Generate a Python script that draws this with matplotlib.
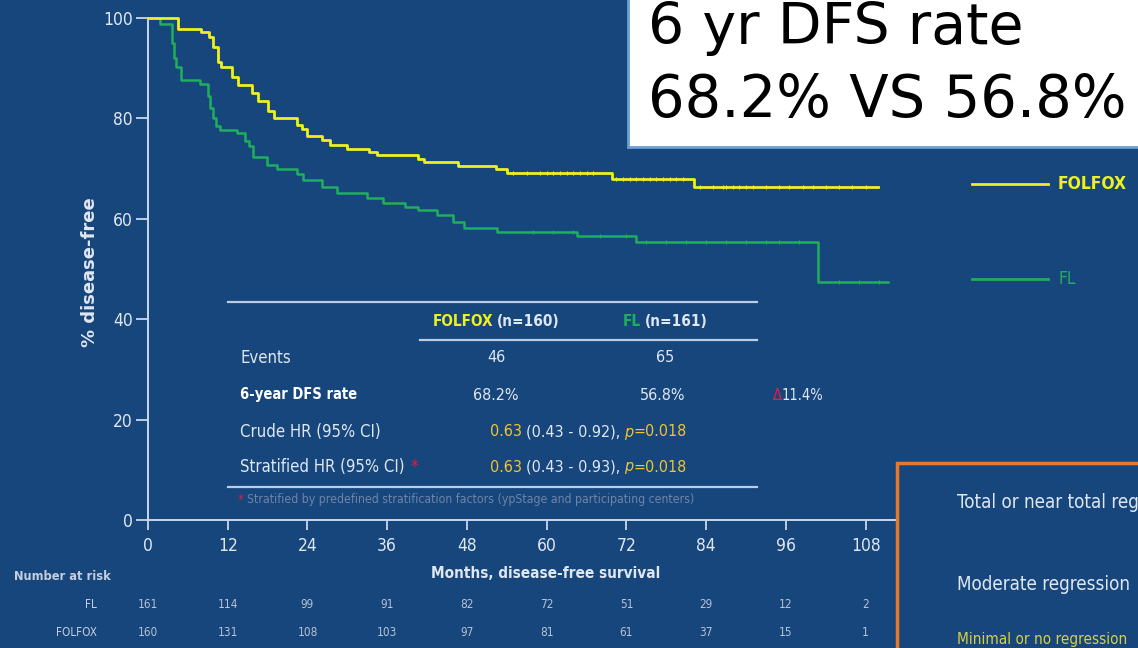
import numpy as np
import matplotlib.pyplot as plt
from matplotlib.patches import Rectangle
from matplotlib.lines import Line2D
import matplotlib.transforms as mtransforms

plt.rcParams['font.family'] = ['DejaVu Sans']
plt.rcParams['font.stretch'] = 'condensed'

W, H = 1138, 648
BG = '#16467b'
LIGHT = '#dfe7f2'
YEL = '#eef020'
GRN = '#1fae5c'
GOLD = '#f2c42e'
RED = '#e0203c'

# Kaplan-Meier steps (months, % disease-free)
folfox_t = [0, 4.5, 8.0, 9.2, 9.8, 10.6, 11.0, 12.6, 13.6, 15.7, 16.5, 18.0, 18.9, 22.4,
            23.2, 24.0, 26.2, 27.4, 29.9, 33.2, 34.4, 40.7, 41.5, 46.7, 52.3, 54.0, 69.8,
            82.1, 109.8]
folfox_s = [100, 97.9, 97.3, 96.3, 94.3, 91.3, 90.3, 88.3, 86.7, 85.0, 83.5, 81.5, 80.0, 78.7,
            77.8, 76.4, 75.7, 74.7, 74.0, 73.4, 72.7, 72.0, 71.3, 70.6, 70.0, 69.2, 68.0,
            66.4, 66.4]
fl_t = [0, 1.8, 3.6, 3.9, 4.2, 4.9, 7.8, 9.0, 9.4, 9.8, 10.2, 10.8, 13.4, 14.6, 15.2, 15.8,
        17.9, 19.4, 22.4, 23.4, 26.2, 28.5, 33.0, 35.3, 38.7, 40.7, 43.5, 45.9, 47.6, 52.5,
        64.5, 73.5, 100.9, 111.3]
fl_s = [100, 98.8, 95.0, 92.0, 90.3, 87.6, 86.9, 84.5, 82.0, 80.0, 78.5, 77.7, 77.0, 75.5,
        74.5, 72.4, 70.7, 70.0, 69.0, 67.7, 66.3, 65.1, 64.2, 63.1, 62.3, 61.8, 60.8, 59.4,
        58.2, 57.4, 56.6, 55.4, 47.5, 47.5]

# censor ticks
folfox_cens = [55, 57, 59, 60, 61, 62, 63, 64, 65, 66, 67, 70.5, 71.5, 72.5, 73.5, 74.5, 75.5,
               76.5, 77.5, 78.5, 79.5, 80.5, 83, 85, 86.5, 87, 88, 89, 90, 91, 93, 95, 96.5,
               98.5, 100, 102, 104, 106, 108]
fl_cens = [58, 61, 64, 68, 72, 75, 78, 81, 84, 87, 90, 93, 95, 98, 104, 107, 110]

months = [0, 12, 24, 36, 48, 60, 72, 84, 96, 108]
yticks = [0, 20, 40, 60, 80, 100]
risk_fl = [161, 114, 99, 91, 82, 72, 51, 29, 12, 2]
risk_folfox = [160, 131, 108, 103, 97, 81, 61, 37, 15, 1]


def fx(px):
    return px / W


def fy(py):
    return 1 - py / H


def step_at(ts, ss, c):
    i = np.searchsorted(ts, c, side='right') - 1
    return ss[i]


fig = plt.figure(figsize=(W / 100, H / 100), dpi=100)
fig.patch.set_facecolor(BG)

ax = fig.add_axes([fx(148), fy(520), fx(896 - 148), (520 - 18) / H])
ax.patch.set_visible(False)
ax.set_xlim(0, (896 - 148) / 6.645)
ax.set_ylim(0, 100)
for s in ['top', 'right']:
    ax.spines[s].set_visible(False)
for s in ['left', 'bottom']:
    ax.spines[s].set_color('#c9d8ea')
    ax.spines[s].set_linewidth(1.4)
ax.set_xticks(months)
ax.set_yticks(yticks)
ax.tick_params(axis='x', direction='out', length=7, width=1.3, colors='#c9d8ea',
               labelcolor=LIGHT, labelsize=12.5, pad=5)
ax.tick_params(axis='y', direction='out', length=9, width=1.3, colors='#c9d8ea',
               labelcolor=LIGHT, labelsize=12.5, pad=2)

ax.step(folfox_t, folfox_s, where='post', color=YEL, lw=2.0, clip_on=False, zorder=4)
ax.step(fl_t, fl_s, where='post', color=GRN, lw=1.8, clip_on=False, zorder=3)
ax.plot(folfox_cens, [step_at(folfox_t, folfox_s, c) for c in folfox_cens], '|',
        color=YEL, ms=3, mew=0.8, zorder=4)
ax.plot(fl_cens, [step_at(fl_t, fl_s, c) for c in fl_cens], '|',
        color=GRN, ms=3, mew=0.8, zorder=3)

fig.text(fx(90), fy(272), '% disease-free', rotation=90, ha='center', va='center',
         color=LIGHT, fontsize=13, fontweight='bold', fontstretch='normal')
fig.text(fx(546), fy(574), 'Months, disease-free survival', ha='center', va='center',
         color=LIGHT, fontsize=11, fontweight='bold')

# number at risk
fig.text(fx(14), fy(576), 'Number at risk', ha='left', va='center', color='#c4cede',
         fontsize=9.2, fontweight='bold')
blend = mtransforms.blended_transform_factory(ax.transData, fig.transFigure)
for lab, row, py in [('FL', risk_fl, 604), ('FOLFOX', risk_folfox, 633)]:
    fig.text(fx(97), fy(py), lab, ha='right', va='center', color='#c4cede', fontsize=8.5)
    for m, n in zip(months, row):
        ax.text(m, fy(py), str(n), transform=blend, ha='center', va='center',
                color='#b7c3d6', fontsize=8.5)

# table
renderer = fig.canvas.get_renderer()


def chain(px, py, parts, size, ha='left', weight='normal'):
    arts = []
    x = 0
    for txt, col, style, gap in parts:
        x += gap
        t = fig.text(0, fy(py), txt, color=col, fontsize=size, fontstyle=style,
                     fontweight=weight, va='center', ha='left')
        w = t.get_window_extent(renderer).width
        arts.append((t, x))
        x += w
    start = px - x / 2 if ha == 'center' else px
    for t, off in arts:
        t.set_x(fx(start + off))


for py, x0, x1 in [(302, 228, 757), (340, 420, 757), (487, 228, 757)]:
    fig.add_artist(Line2D([fx(x0), fx(x1)], [fy(py), fy(py)], color='#b9cde6', lw=1.6))

TS = 11.5
LS = 12
chain(496, 322, [('FOLFOX', YEL, 'normal', 0), ('(n=160)', LIGHT, 'normal', 4)], 11,
      ha='center', weight='bold')
chain(665, 322, [('FL', GRN, 'normal', 0), ('(n=161)', LIGHT, 'normal', 4)], 11,
      ha='center', weight='bold')

fig.text(fx(240), fy(358), 'Events', color=LIGHT, fontsize=LS, va='center')
fig.text(fx(496), fy(358), '46', color=LIGHT, fontsize=TS, va='center', ha='center')
fig.text(fx(665), fy(358), '65', color=LIGHT, fontsize=TS, va='center', ha='center')

fig.text(fx(240), fy(395), '6-year DFS rate', color='white', fontsize=10.5, va='center',
         fontweight='bold')
fig.text(fx(496), fy(395), '68.2%', color=LIGHT, fontsize=TS, va='center', ha='center')
fig.text(fx(663), fy(395), '56.8%', color=LIGHT, fontsize=TS, va='center', ha='center')
chain(773, 395, [('Δ', RED, 'normal', 0), ('11.4%', LIGHT, 'normal', 0)], 10.5)

fig.text(fx(240), fy(432), 'Crude HR (95% CI)', color=LIGHT, fontsize=LS, va='center')
chain(490, 432, [('0.63', GOLD, 'normal', 0), ('(0.43 - 0.92),', LIGHT, 'normal', 4),
                 ('p', GOLD, 'italic', 4), ('=0.018', GOLD, 'normal', 0)], TS)
chain(240, 467, [('Stratified HR (95% CI)', LIGHT, 'normal', 0), ('*', RED, 'normal', 6)], LS)
chain(490, 467, [('0.63', GOLD, 'normal', 0), ('(0.43 - 0.93),', LIGHT, 'normal', 4),
                 ('p', GOLD, 'italic', 4), ('=0.018', GOLD, 'normal', 0)], TS)
chain(238, 500, [('*', RED, 'normal', 0),
                 ('Stratified by predefined stratification factors (ypStage and participating centers)',
                  '#6f84a8', 'normal', 3)], 8.8)

# white call-out box
fig.add_artist(Rectangle((fx(628), fy(147)), fx(560), 160 / H, facecolor='white',
                         edgecolor='#6a9fd4', lw=2, zorder=5))
fig.text(fx(648), fy(44), '6 yr DFS rate', fontsize=41, color='black', va='baseline',
         zorder=6, fontstretch='normal')
fig.text(fx(648), fy(117), '68.2% VS 56.8%', fontsize=41.5, color='black', va='baseline',
         zorder=6, fontstretch='normal')

# legend
fig.add_artist(Line2D([fx(972), fx(1048)], [fy(184), fy(184)], color=YEL, lw=2))
fig.add_artist(Line2D([fx(972), fx(1048)], [fy(279), fy(279)], color=GRN, lw=2))
fig.text(fx(1058), fy(184), 'FOLFOX', color=YEL, fontsize=12.5, fontweight='bold', va='center')
fig.text(fx(1058), fy(279), 'FL', color=GRN, fontsize=12.5, va='center')

# orange box
fig.add_artist(Rectangle((fx(897), fy(660)), fx(260), 197 / H, facecolor=BG,
                         edgecolor='#e8772c', lw=2.5, zorder=5))
fig.text(fx(957), fy(503), 'Total or near total reg', color=LIGHT, fontsize=13.5,
         va='center', zorder=6)
fig.text(fx(957), fy(584), 'Moderate regression', color=LIGHT, fontsize=13.5,
         va='center', zorder=6)
fig.text(fx(957), fy(647), 'Minimal or no regression', color='#d8d040', fontsize=11,
         va='bottom', zorder=6)

fig.savefig('out.png', dpi=100, facecolor=BG)
